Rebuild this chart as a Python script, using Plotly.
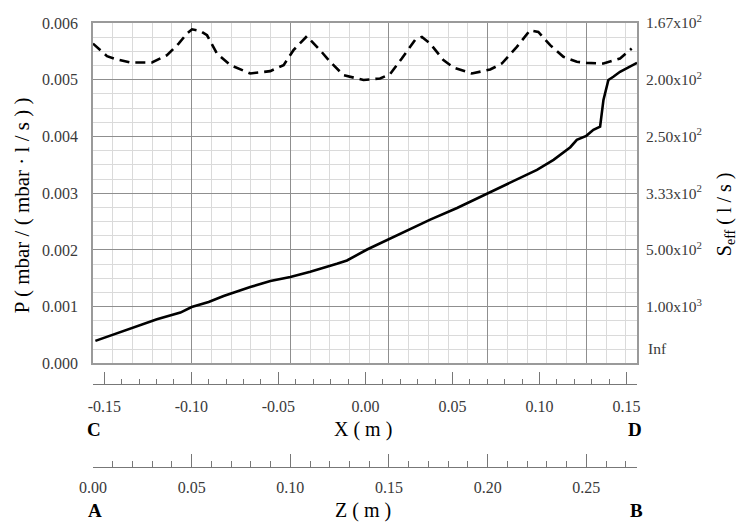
import plotly.graph_objects as go

# ---------------- data ----------------
# Solid curve: pressure P vs Z (m)
z_solid = [0.0012, 0.0155, 0.0324, 0.0443, 0.0500, 0.0586, 0.0662, 0.0797, 0.0899, 0.1000,
           0.1101, 0.1236, 0.1287, 0.1389, 0.1500, 0.1608, 0.1709, 0.1845, 0.2000, 0.2149,
           0.2250, 0.2334, 0.2419, 0.2452, 0.2500, 0.2536, 0.2570, 0.2587, 0.2612, 0.2637,
           0.2671, 0.2757]
p_solid = [0.000398, 0.000574, 0.000779, 0.000896, 0.000995, 0.001083, 0.001189, 0.001347, 0.001452, 0.001522,
           0.001616, 0.001756, 0.001815, 0.002008, 0.002196, 0.002371, 0.002535, 0.002740, 0.003003, 0.003249,
           0.003413, 0.003589, 0.003811, 0.003942, 0.004011, 0.004118, 0.004175, 0.004644, 0.004995, 0.005053,
           0.005140, 0.005298]

# Dashed curve: 1/Seff (read on the reciprocal right axis) vs Z (m)
z_dash = [0.0000, 0.0071, 0.0122, 0.0189, 0.0299, 0.0375, 0.0434, 0.0476, 0.0502, 0.0544,
          0.0578, 0.0628, 0.0696, 0.0797, 0.0898, 0.0966, 0.1016, 0.1084, 0.1151, 0.1202,
          0.1269, 0.1371, 0.1455, 0.1506, 0.1565, 0.1633, 0.1667, 0.1709, 0.1776, 0.1827,
          0.1920, 0.2013, 0.2072, 0.2148, 0.2215, 0.2257, 0.2317, 0.2384, 0.2452, 0.2502,
          0.2587, 0.2671, 0.2730]
inv_seff_dash = [0.005637, 0.005416, 0.005357, 0.005304, 0.005304, 0.005433, 0.005637, 0.005812, 0.005889, 0.005860,
                 0.005784, 0.005461, 0.005258, 0.005110, 0.005152, 0.005258, 0.005521, 0.005767, 0.005521, 0.005316,
                 0.005082, 0.004995, 0.005023, 0.005100, 0.005374, 0.005707, 0.005754, 0.005637, 0.005345, 0.005216,
                 0.005110, 0.005180, 0.005286, 0.005579, 0.005872, 0.005842, 0.005609, 0.005404, 0.005316, 0.005298,
                 0.005286, 0.005374, 0.005549]

# Axis ticks / labels
p_ticks = [0.000, 0.001, 0.002, 0.003, 0.004, 0.005, 0.006]
seff_tick_vals = [0.001, 0.002, 0.003, 0.004, 0.005, 0.006]
seff_tick_text = ["1.00x10<sup>3</sup>", "5.00x10<sup>2</sup>", "3.33x10<sup>2</sup>",
                  "2.50x10<sup>2</sup>", "2.00x10<sup>2</sup>", "1.67x10<sup>2</sup>"]
x_tick_vals = [-0.15, -0.10, -0.05, 0.00, 0.05, 0.10, 0.15]
x_tick_text = ["-0.15", "-0.10", "-0.05", "0.00", "0.05", "0.10", "0.15"]
z_tick_vals = [0.00, 0.05, 0.10, 0.15, 0.20, 0.25]
z_tick_text = ["0.00", "0.05", "0.10", "0.15", "0.20", "0.25"]

SERIF = "Liberation Serif, Times New Roman, serif"
TICKC = "#3a3a3a"
MAJ = "#8f8f8f"
MIN = "#dadada"

fig = go.Figure()
fig.add_trace(go.Scatter(x=z_solid, y=p_solid, mode="lines",
                         line=dict(color="black", width=2.6), showlegend=False, hoverinfo="skip"))
fig.add_trace(go.Scatter(x=z_dash, y=inv_seff_dash, mode="lines", yaxis="y2",
                         line=dict(color="black", width=2.6, dash="10px,6px"),
                         showlegend=False, hoverinfo="skip"))
# carriers for the two extra scale axes
fig.add_trace(go.Scatter(x=x_tick_vals, y=[None] * len(x_tick_vals), xaxis="x2", mode="lines",
                         showlegend=False, hoverinfo="skip"))
fig.add_trace(go.Scatter(x=z_tick_vals, y=[None] * len(z_tick_vals), xaxis="x3", mode="lines",
                         showlegend=False, hoverinfo="skip"))

pb = 467.0  # bottom of plot area in px
ph = 446.0  # plot area height in px
def ypos(px):
    return (pb - px) / ph

fig.update_layout(
    width=739, height=525,
    margin=dict(l=93, r=102, t=21, b=58),
    paper_bgcolor="white", plot_bgcolor="white",
    font=dict(family=SERIF, size=16, color="black"),
    xaxis=dict(domain=[0, 1], range=[0, 0.2757], anchor="y", showticklabels=False,
               tick0=0, dtick=0.05, showgrid=True, gridcolor=MAJ, gridwidth=1,
               minor=dict(dtick=0.01, tick0=0, showgrid=True, gridcolor=MIN, gridwidth=1),
               showline=True, mirror=True, linecolor="#9a9a9a", linewidth=1.5,
               zeroline=False, ticks=""),
    yaxis=dict(domain=[ypos(363), 1], range=[0, 0.006], tickvals=p_ticks, tickformat=".3f",
               showgrid=True, gridcolor=MAJ, gridwidth=1,
               minor=dict(dtick=0.00025, tick0=0, showgrid=True, gridcolor=MIN, gridwidth=1),
               showline=True, mirror=True, linecolor="#9a9a9a", linewidth=1.5,
               zeroline=False, ticks="", tickfont=dict(family=SERIF, size=16, color=TICKC),
               ticklabelstandoff=10),
    yaxis2=dict(overlaying="y", side="right", anchor="x", range=[0, 0.006],
                tickvals=seff_tick_vals, ticktext=seff_tick_text, showgrid=False,
                zeroline=False, showline=False, ticks="",
                tickfont=dict(family=SERIF, size=15.5, color=TICKC), ticklabelstandoff=8),
    xaxis2=dict(overlaying="x", anchor="free", position=ypos(384), side="bottom",
                range=[-0.1565, 0.1560], tickvals=x_tick_vals, ticktext=x_tick_text,
                ticks="inside", ticklen=12, tickcolor="#777777", tickwidth=1,
                minor=dict(dtick=0.01, tick0=0, ticks="inside", ticklen=5, tickcolor="#777777"),
                showline=True, linecolor="#777777", linewidth=1, showgrid=False, zeroline=False,
                tickfont=dict(family=SERIF, size=16, color=TICKC), ticklabelstandoff=7),
    xaxis3=dict(overlaying="x", anchor="free", position=ypos(467), side="bottom",
                range=[0, 0.2757], tickvals=z_tick_vals, ticktext=z_tick_text,
                ticks="inside", ticklen=13, tickcolor="#777777", tickwidth=1,
                minor=dict(dtick=0.01, tick0=0, ticks="inside", ticklen=6, tickcolor="#777777"),
                showline=True, linecolor="#777777", linewidth=1, showgrid=False, zeroline=False,
                tickfont=dict(family=SERIF, size=16, color=TICKC), ticklabelstandoff=6),
)

W = 544.0
def xpos(px):
    return (px - 93) / W

ann = [
    dict(text="P ( mbar / ( mbar · l / s ) )", x=xpos(22), y=ypos(204), textangle=-90,
         font=dict(size=21)),
    dict(text="S<sub>eff</sub> ( l / s )", x=xpos(725), y=ypos(213), textangle=-90,
         font=dict(size=20)),
    dict(text="X ( m )", x=xpos(363), y=ypos(429), font=dict(size=20)),
    dict(text="Z ( m )", x=xpos(363), y=ypos(511), font=dict(size=20)),
    dict(text="<b>C</b>", x=xpos(94), y=ypos(429), font=dict(size=19)),
    dict(text="<b>D</b>", x=xpos(635), y=ypos(429), font=dict(size=19)),
    dict(text="<b>A</b>", x=xpos(95), y=ypos(511), font=dict(size=19)),
    dict(text="<b>B</b>", x=xpos(636), y=ypos(511), font=dict(size=19)),
]
for a in ann:
    fig.add_annotation(xref="paper", yref="paper", showarrow=False,
                       xanchor="center", yanchor="middle", **a)
fig.add_annotation(text="Inf", xref="paper", yref="y", x=1, y=0, xanchor="left", yanchor="middle",
                   xshift=9, yshift=15, showarrow=False,
                   font=dict(family=SERIF, size=15.5, color=TICKC))

fig.write_html("out.html")
